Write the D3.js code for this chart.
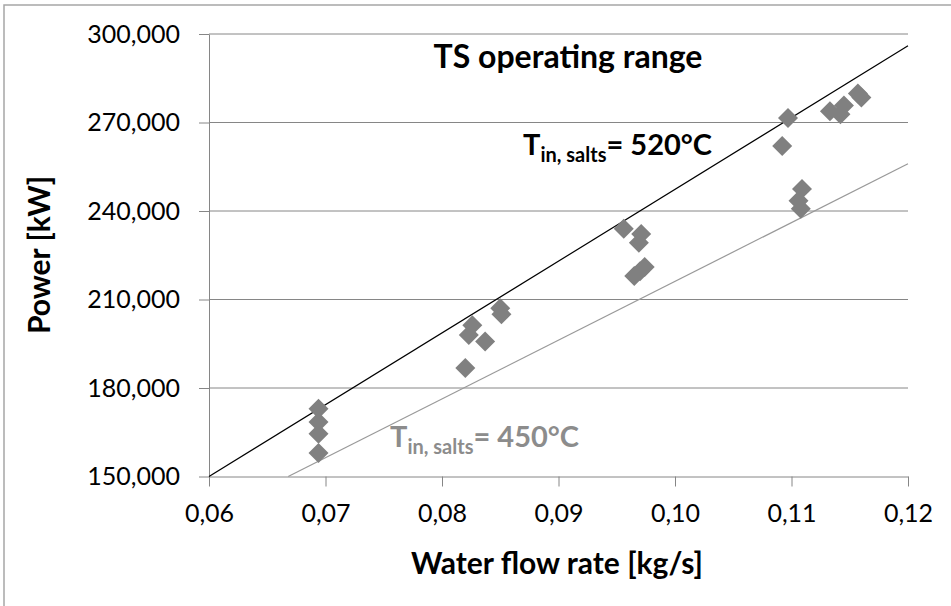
<!DOCTYPE html>
<html>
<head>
<meta charset="utf-8">
<script src="https://cdn.jsdelivr.net/npm/d3@7"></script>
<style>
  body { margin: 0; background: #fff; }
  svg { font-family: Lato, "Open Sans", sans-serif; }
</style>
</head>
<body>
<svg id="chart" width="951" height="606"></svg>
<script>
// measured points (water flow rate kg/s, power kW)
const flowRate = [0.0694, 0.0694, 0.0694, 0.0694,
                  0.0820, 0.0823, 0.0826, 0.0837, 0.0850, 0.0851,
                  0.0956, 0.0971, 0.0969, 0.0965, 0.0970, 0.0974,
                  0.1092, 0.1097, 0.1133, 0.1142, 0.1145, 0.1157, 0.1160,
                  0.1109, 0.1106, 0.1108]
const power = [173000, 168500, 164500, 158000,
               186800, 198000, 201300, 195800, 207000, 205000,
               234000, 232200, 229200, 218000, 219600, 221000,
               262000, 271500, 273800, 272800, 275800, 279800, 278500,
               247500, 243500, 240800]

// reference lines for salt inlet temperature
const line520 = [[0.06, 150000], [0.12, 296000]]
const line450 = [[0.0668, 150000], [0.12, 256000]]

const xTicks = [0.06, 0.07, 0.08, 0.09, 0.10, 0.11, 0.12]
const yTicks = [150000, 180000, 210000, 240000, 270000, 300000]

const svg = d3.select('#chart')
const plotL = 209, plotR = 908, plotT = 34, plotB = 476.5

const x = d3.scaleLinear().domain([0.06, 0.12]).range([plotL, plotR])
const y = d3.scaleLinear().domain([150000, 300000]).range([plotB, plotT])

// outer frame (only top and left are visible in the original)
svg.append('path')
  .attr('d', 'M4,606 V5 H951')
  .attr('fill', 'none').attr('stroke', '#a6a6a6').attr('stroke-width', 1.5)

// gridlines
svg.append('g').selectAll('line').data(yTicks.slice(1)).join('line')
  .attr('x1', plotL).attr('x2', plotR)
  .attr('y1', d => y(d)).attr('y2', d => y(d))
  .attr('stroke', '#868686').attr('stroke-width', 1)

const xAxis = d3.axisBottom(x).tickValues(xTicks).tickSize(10).tickSizeOuter(0)
  .tickFormat(d => d3.format('.2f')(d).replace('.', ','))
const yAxis = d3.axisLeft(y).tickValues(yTicks).tickSize(10).tickSizeOuter(0)
  .tickFormat(d3.format(','))

const gx = svg.append('g').attr('transform', `translate(0,${plotB})`).call(xAxis)
const gy = svg.append('g').attr('transform', `translate(${plotL},0)`).call(yAxis)

;[gx, gy].forEach(g => {
  g.select('.domain').attr('stroke', '#868686')
  g.selectAll('.tick line').attr('stroke', '#868686')
  g.selectAll('.tick text').attr('fill', '#000').attr('font-size', 25)
    .attr('font-family', 'Lato, "Open Sans", sans-serif')
})
gx.selectAll('.tick text').attr('dy', 32)
gy.selectAll('.tick text').attr('dx', -16)

// reference lines
const lineGen = d3.line().x(d => x(d[0])).y(d => y(d[1]))
svg.append('path').datum(line520).attr('d', lineGen)
  .attr('stroke', '#000').attr('stroke-width', 1.2).attr('fill', 'none')
svg.append('path').datum(line450).attr('d', lineGen)
  .attr('stroke', '#999').attr('stroke-width', 1.2).attr('fill', 'none')

// diamonds
const diamond = d3.symbol().type(d3.symbolSquare).size(200)
svg.append('g').selectAll('path').data(flowRate).join('path')
  .attr('d', diamond)
  .attr('transform', (d, i) => `translate(${x(d)},${y(power[i])}) rotate(45)`)
  .attr('fill', '#808080')

// title
svg.append('text').attr('x', 568).attr('y', 68).attr('text-anchor', 'middle')
  .attr('font-size', 32).attr('font-weight', 'bold').text('TS operating range')

// line labels
function tempLabel(px, py, temp, color) {
  const t = svg.append('text').attr('x', px).attr('y', py)
    .attr('font-weight', 'bold').attr('fill', color).attr('font-size', 29)
  t.append('tspan').text('T')
  t.append('tspan').attr('font-size', 20).attr('dy', 7).text('in, salts')
  t.append('tspan').attr('dy', -7).text(`= ${temp}°C`)
}
tempLabel(523, 155, 520, '#000')
tempLabel(390, 447, 450, '#8c8c8c')

// axis titles
svg.append('text').attr('x', 557).attr('y', 574).attr('text-anchor', 'middle')
  .attr('font-size', 30).attr('font-weight', 'bold').text('Water flow rate [kg/s]')
svg.append('text').attr('transform', 'translate(50,255) rotate(-90)')
  .attr('text-anchor', 'middle')
  .attr('font-size', 30).attr('font-weight', 'bold').text('Power [kW]')
</script>
</body>
</html>
